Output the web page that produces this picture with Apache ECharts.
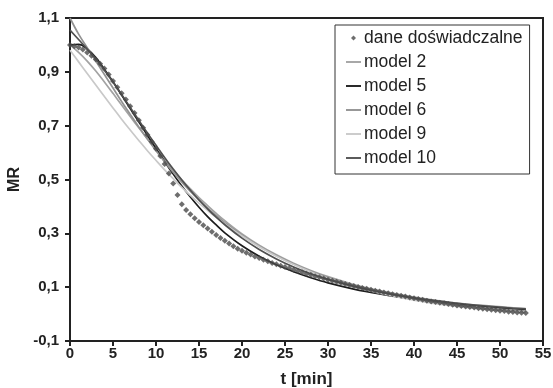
<!DOCTYPE html>
<html>
<head>
<meta charset="utf-8">
<script src="https://cdn.jsdelivr.net/npm/echarts@6/dist/echarts.min.js"></script>
<style>
  html, body { margin: 0; padding: 0; background: #fff; }
  #chart { width: 553px; height: 388px; }
</style>
</head>
<body>
<div id="chart"></div>
<script>
// measured points (t in min, MR)
const timeMeasured = [
  0, 0.5, 1, 1.5, 2, 2.5, 3, 3.5, 4, 4.5, 5, 5.5, 6, 6.5, 7, 7.5, 8, 8.5, 9, 9.5,
  10, 10.5, 11, 11.5, 12, 12.5, 13, 13.5, 14, 14.5, 15, 15.5, 16, 16.5, 17, 17.5, 18, 18.5, 19, 19.5,
  20, 20.5, 21, 21.5, 22, 22.5, 23, 23.5, 24, 24.5, 25, 25.5, 26, 26.5, 27, 27.5, 28, 28.5, 29, 29.5,
  30, 30.5, 31, 31.5, 32, 32.5, 33, 33.5, 34, 34.5, 35, 35.5, 36, 36.5, 37, 37.5, 38, 38.5, 39, 39.5,
  40, 40.5, 41, 41.5, 42, 42.5, 43, 43.5, 44, 44.5, 45, 45.5, 46, 46.5, 47, 47.5, 48, 48.5, 49, 49.5,
  50, 50.5, 51, 51.5, 52, 52.5, 53
]
const mrMeasured = [
  1.000, 0.995, 0.990, 0.983, 0.972, 0.960, 0.946, 0.930, 0.912, 0.890, 0.866, 0.843, 0.820, 0.797, 0.772, 0.747, 0.720, 0.692, 0.666, 0.640,
  0.614, 0.587, 0.558, 0.522, 0.485, 0.442, 0.408, 0.387, 0.371, 0.356, 0.342, 0.330, 0.318, 0.306, 0.294, 0.283, 0.272, 0.262, 0.252, 0.243,
  0.235, 0.228, 0.221, 0.214, 0.208, 0.202, 0.196, 0.190, 0.185, 0.180, 0.175, 0.170, 0.165, 0.160, 0.155, 0.150, 0.146, 0.141, 0.137, 0.132,
  0.128, 0.124, 0.120, 0.116, 0.112, 0.108, 0.104, 0.101, 0.097, 0.094, 0.090, 0.087, 0.084, 0.080, 0.077, 0.074, 0.071, 0.068, 0.065, 0.062,
  0.059, 0.056, 0.053, 0.050, 0.047, 0.045, 0.042, 0.040, 0.037, 0.035, 0.032, 0.030, 0.028, 0.026, 0.024, 0.022, 0.020, 0.018, 0.016, 0.014,
  0.012, 0.011, 0.009, 0.008, 0.006, 0.005, 0.004
]

// model curves, sampled at these times
const timeModel = [0, 1, 2, 3, 4, 5, 6, 7, 8, 9, 10, 11, 12, 13, 14, 15, 16, 17, 18, 20, 22, 24, 26, 28, 30, 33, 36, 40, 44, 48, 53]
const model2 = [1.0, 0.972, 0.94, 0.903, 0.862, 0.82, 0.777, 0.734, 0.692, 0.651, 0.611, 0.572, 0.535, 0.499, 0.465, 0.433, 0.403, 0.374, 0.347,
  0.298, 0.256, 0.22, 0.189, 0.162, 0.139, 0.11, 0.087, 0.063, 0.045, 0.032, 0.02]
const model5 = [1.0, 1.002, 0.985, 0.953, 0.91, 0.863, 0.814, 0.764, 0.714, 0.664, 0.615, 0.567, 0.52, 0.476, 0.435, 0.397, 0.362, 0.331, 0.302,
  0.254, 0.215, 0.183, 0.157, 0.135, 0.116, 0.093, 0.075, 0.055, 0.04, 0.028, 0.017]
const model6 = [1.1, 1.04, 0.99, 0.94, 0.89, 0.84, 0.79, 0.742, 0.695, 0.65, 0.607, 0.566, 0.527, 0.49, 0.456, 0.424, 0.394, 0.366, 0.34,
  0.293, 0.252, 0.217, 0.186, 0.159, 0.136, 0.106, 0.082, 0.057, 0.038, 0.024, 0.011]
const model9 = [0.98, 0.937, 0.894, 0.851, 0.808, 0.766, 0.724, 0.684, 0.645, 0.607, 0.571, 0.536, 0.503, 0.471, 0.441, 0.412, 0.385, 0.359, 0.335,
  0.29, 0.25, 0.215, 0.184, 0.157, 0.133, 0.103, 0.078, 0.052, 0.032, 0.018, 0.006]
const model10 = [1.055, 1.02, 0.985, 0.948, 0.906, 0.862, 0.816, 0.768, 0.72, 0.673, 0.627, 0.582, 0.539, 0.498, 0.46, 0.424, 0.391, 0.36, 0.332,
  0.282, 0.24, 0.205, 0.175, 0.15, 0.129, 0.103, 0.082, 0.06, 0.044, 0.031, 0.019]

const yTicks = [-0.1, 0.1, 0.3, 0.5, 0.7, 0.9, 1.1]

const models = [
  { name: 'model 2', values: model2, color: '#a3a3a3' },
  { name: 'model 5', values: model5, color: '#1c1c1c' },
  { name: 'model 6', values: model6, color: '#929292' },
  { name: 'model 9', values: model9, color: '#c9c9c9' },
  { name: 'model 10', values: model10, color: '#505050' },
]

const pair = (xs, ys) => xs.map((x, i) => [x, ys[i]])
const font = 'Liberation Sans, Arial, sans-serif'
const lineIcon = 'path://M0,0H16V2H0Z'
const dotIcon = 'path://M3,0L6,3L3,6L0,3Z'

const chart = echarts.init(document.getElementById('chart'), null, { renderer: 'canvas' })

chart.setOption({
  animation: false,
  backgroundColor: '#fff',
  grid: {
    left: 70, right: 10, top: 18, bottom: 47,
    outerBoundsMode: 'none',
    show: true, borderColor: '#222', borderWidth: 2,
  },
  legend: {
    orient: 'vertical',
    left: 335,
    top: 25,
    backgroundColor: '#fff',
    borderColor: '#333',
    borderWidth: 1,
    borderRadius: 0,
    padding: [3, 7, 6, 11],
    itemGap: 4,
    itemWidth: 15,
    itemHeight: 5,
    symbolKeepAspect: true,
    textStyle: { fontFamily: font, fontSize: 17.5, lineHeight: 20, color: '#222', padding: [0, 0, 0, -2] },
    data: [
      { name: 'dane doświadczalne', icon: dotIcon },
      { name: 'model 2', icon: lineIcon },
      { name: 'model 5', icon: lineIcon },
      { name: 'model 6', icon: lineIcon },
      { name: 'model 9', icon: lineIcon },
      { name: 'model 10', icon: lineIcon },
    ],
  },
  xAxis: {
    type: 'value',
    min: 0,
    max: 55,
    interval: 5,
    name: 't [min]',
    nameLocation: 'middle',
    nameGap: 30,
    nameTextStyle: { fontFamily: font, fontSize: 17, fontWeight: 'bold', color: '#222' },
    axisLine: { onZero: false, lineStyle: { color: '#222', width: 2 } },
    axisTick: { show: true, inside: false, length: 5, lineStyle: { color: '#222', width: 2 } },
    axisLabel: { fontFamily: font, fontSize: 15, fontWeight: 'bold', color: '#222', margin: 5 },
    splitLine: { show: false },
  },
  yAxis: {
    type: 'value',
    min: -0.1,
    max: 1.1,
    name: 'MR',
    nameLocation: 'middle',
    nameRotate: 90,
    nameGap: 41,
    nameTextStyle: { fontFamily: font, fontSize: 16, fontWeight: 'bold', color: '#222' },
    axisLine: { show: true, onZero: false, lineStyle: { color: '#222', width: 2 } },
    axisTick: { show: true, inside: false, length: 5, customValues: yTicks, lineStyle: { color: '#222', width: 2 } },
    axisLabel: {
      fontFamily: font, fontSize: 15, fontWeight: 'bold', color: '#222', margin: 11,
      customValues: yTicks,
      formatter: (v) => v.toFixed(1).replace('.', ','),
    },
    splitLine: { show: false },
  },
  series: [
    ...models.map((m) => ({
      type: 'line',
      name: m.name,
      data: pair(timeModel, m.values),
      smooth: 0.4,
      symbol: 'none',
      clip: true,
      lineStyle: { color: m.color, width: 1.7 },
      itemStyle: { color: m.color },
      z: 2,
    })),
    {
      type: 'scatter',
      name: 'dane doświadczalne',
      data: pair(timeMeasured, mrMeasured),
      symbol: 'diamond',
      symbolSize: 6,
      itemStyle: { color: '#4a4a4a' },
      z: 3,
    },
  ],
})
</script>
</body>
</html>
